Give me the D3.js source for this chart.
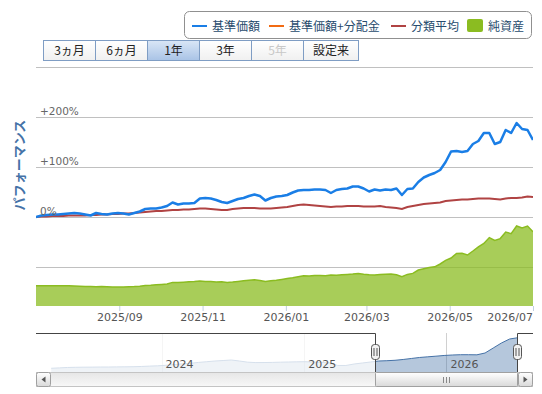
<!DOCTYPE html>
<html><head><meta charset="utf-8">
<script src="https://cdn.jsdelivr.net/npm/d3@7"></script>
<style>
body{margin:0;background:#fff}
svg{display:block;font-family:"DejaVu Sans",sans-serif}
.jp{font-family:"Noto Sans CJK JP",sans-serif}
</style></head><body><div id="chart"></div>
<script>
var w = 542, h = 394

// main series, one point every 4 days from 2025/07/02
var start = new Date(2025, 6, 2), step = 4
var fundValues = [0,3,4,5,5,6,7,8,7,5,3,
  8,6,5,7,8,7,5,8,11,16,17,17,19,22,29,25,27,27,28,37,38,
  37,34,30,28,32,36,38,42,45,42,33,38,41,42,44,49,53,54,54,55,55,54,
  48,54,56,57,61,61,57,51,55,53,55,54,57,44,56,57,70,79,84,88,94,
  110,131,132,130,132,146,152,168,168,146,150,174,168,188,176,174,154]
var categoryValues = [0,1,1,2,2,2,3,3,3,3,4,
  4,5,5,6,6,7,7,8,9,10,11,12,12,13,14,14,15,15,16,17,17,
  16,15,14,14,16,17,18,18,18,17,17,17,18,19,20,22,24,25,24,23,22,21,
  20,21,21,22,22,22,21,21,21,22,20,19,18,16,20,22,24,26,27,28,29,
  32,33,34,35,35,36,37,37,37,36,35,37,38,38,39,41,40]
var netAssets = [101,101,101,101,101,101,101,100,99,97,97,96,97,96,95,95,95,96,97,99,
  103,104,106,108,110,118,117,119,121,122,125,123,122,120,121,118,120,123,126,129,
  131,128,122,126,129,133,137,141,146,151,150,152,153,151,155,154,156,158,160,163,
  159,156,155,158,159,160,156,147,158,163,180,186,192,196,210,228,240,263,264,255,
  275,296,313,342,328,337,370,362,400,390,400,371]

var yTicks = [-100, 0, 100, 200, 300]
var yTickLabels = {'0': '0%', '100': '+100%', '200': '+200%'}
var xTicks = ['2025-09-01', '2025-11-01', '2026-01-01', '2026-03-01', '2026-05-01', '2026-07-01']

// navigator: 基準価額 since inception, one point every 21 days
var navStart = new Date(2023, 2, 24), navStep = 21
var navValues = [10000,11100,12200,12700,13000,13200,13500,13500,13800,14000,
  14300,14900,15900,16700,18100,20000,21900,23500,25900,27800,
  29700,31000,32400,29700,26500,25400,25600,25900,26500,27000,
  27500,27800,27000,25900,24800,17600,17600,21600,24300,27000,
  29700,30500,31600,33800,36500,39200,41000,42700,44600,45900,
  46700,46700,46400,51300,64800,78300,89100,92600]
var navYears = ['2024-01-01', '2025-01-01', '2026-01-01']

var buttons = ['3ヵ月', '6ヵ月', '1年', '3年', '5年', '設定来']
var legendNames = ['基準価額', '基準価額+分配金', '分類平均', '純資産']
var legendColors = ['#1a7ee6', '#f26b13', '#b04343', '#8bbc21']

var parse = d3.timeParse('%Y-%m-%d')
var dates = fundValues.map(function(d, i){ return d3.timeDay.offset(start, i * step) })
var navDates = navValues.map(function(d, i){ return d3.timeDay.offset(navStart, i * navStep) })

var L = 36, R = 533

var svg = d3.select('#chart').append('svg')
    .attr('width', w).attr('height', h)

var defs = svg.append('defs')
defs.append('clipPath').attr('id', 'plot')
  .append('rect').attr('x', L).attr('y', 60).attr('width', R - L).attr('height', 246)
defs.append('clipPath').attr('id', 'nav')
  .append('rect').attr('x', L).attr('y', 333).attr('width', R - L).attr('height', 39)

function grad(id, c1, c2){
  var g = defs.append('linearGradient').attr('id', id).attr('x1', 0).attr('x2', 0).attr('y1', 0).attr('y2', 1)
  g.append('stop').attr('offset', 0).attr('stop-color', c1)
  g.append('stop').attr('offset', 1).attr('stop-color', c2)
}
grad('btn', '#ffffff', '#f0f0f0')
grad('btnOn', '#d9e6f6', '#a9c3e6')
grad('bar', '#ffffff', '#d9d9d9')
grad('track', '#e6e6e6', '#f8f8f8')

var x = d3.scaleTime().domain([dates[0], dates[dates.length - 1]]).range([L, R])
var y = d3.scaleLinear().domain([-100, 300]).range([267, 67])
var y2 = d3.scaleLinear().domain([0, 500]).range([306, 206])

// grid
svg.append('g').selectAll('line').data(yTicks).enter().append('line')
    .attr('x1', L).attr('x2', R)
    .attr('y1', function(d){ return Math.round(y(d)) + 0.5 })
    .attr('y2', function(d){ return Math.round(y(d)) + 0.5 })
    .style('stroke', '#c0c0c0')

// net assets
var plot = svg.append('g').attr('clip-path', 'url(#plot)')
plot.append('path').datum(netAssets)
    .attr('d', d3.area().x(function(d, i){ return x(dates[i]) }).y0(306).y1(function(d){ return y2(d) }))
    .style('fill', '#8bbc21').style('opacity', 0.75)
plot.append('path').datum(netAssets)
    .attr('d', d3.line().x(function(d, i){ return x(dates[i]) }).y(function(d){ return y2(d) }))
    .style('fill', 'none').style('stroke', '#8bbc21').style('stroke-width', 1.5)

var perfLine = d3.line().x(function(d, i){ return x(dates[i]) }).y(function(d){ return y(d) })
plot.append('path').datum(categoryValues).attr('d', perfLine)
    .style('fill', 'none').style('stroke', legendColors[2]).style('stroke-width', 2)
plot.append('path').datum(fundValues).attr('d', perfLine)
    .style('fill', 'none').style('stroke', legendColors[0]).style('stroke-width', 2.5)
    .style('stroke-linejoin', 'round')

// y labels
svg.append('g').selectAll('text').data(yTicks.filter(function(d){ return yTickLabels[d] })).enter().append('text')
    .attr('x', 40).attr('y', function(d){ return y(d) - 2.5 })
    .text(function(d){ return yTickLabels[d] })
    .style('font-size', '10.5px').style('fill', '#666')

svg.append('text').attr('class', 'jp')
    .attr('transform', 'translate(24,165) rotate(-90)')
    .attr('text-anchor', 'middle')
    .text('パフォーマンス')
    .style('font-size', '13px').style('font-weight', 'bold').style('fill', '#4572a7')

// x axis
var xAxis = svg.append('g').attr('transform', 'translate(0,306)')
    .call(d3.axisBottom(x).tickValues(xTicks.map(parse)).tickSize(5).tickFormat(d3.timeFormat('%Y/%m')))
xAxis.select('.domain').remove()
xAxis.selectAll('line').style('stroke', '#c0d0e0')
xAxis.selectAll('text').attr('y', 7).style('font-size', '11px').style('fill', '#555')
    .style('font-family', '"DejaVu Sans",sans-serif')
    .each(function(){
      var t = d3.select(this), tx = +this.parentNode.getAttribute('transform').match(/translate\(([\d.]+)/)[1]
      var half = this.getComputedTextLength() / 2
      if (tx + half > R) t.attr('x', R - half - tx)
    })

// range buttons
var bw = [52, 52, 52, 52, 52, 55], bx = 43
var btn = svg.append('g')
buttons.forEach(function(b, i){
  var g = btn.append('g').attr('transform', 'translate(' + (bx + 0.5) + ',40.5)')
  g.append('rect').attr('width', bw[i]).attr('height', 20)
      .style('fill', i == 2 ? 'url(#btnOn)' : 'url(#btn)').style('stroke', '#7f9dc4')
  g.append('text').attr('class', 'jp').attr('x', bw[i] / 2).attr('y', 14.5).attr('text-anchor', 'middle')
      .text(b).style('font-size', '12px')
      .style('fill', i == 4 ? '#c8c8c8' : '#222')
  bx += bw[i]
})

// legend
var lg = svg.append('g')
lg.append('rect').attr('x', 184.5).attr('y', 11.5).attr('width', 347).attr('height', 27).attr('rx', 5)
    .style('fill', '#fff').style('stroke', '#909090')
var lx = [192, 269, 391, 467]
legendNames.forEach(function(n, i){
  if (i == 3)
    lg.append('rect').attr('x', lx[i]).attr('y', 19).attr('width', 16).attr('height', 13).attr('rx', 2)
        .style('fill', legendColors[i])
  else
    lg.append('line').attr('x1', lx[i]).attr('x2', lx[i] + 15).attr('y1', 26).attr('y2', 26)
        .style('stroke', legendColors[i]).style('stroke-width', 2)
  lg.append('text').attr('class', 'jp').attr('x', lx[i] + (i == 3 ? 21 : 20)).attr('y', 30.5)
      .text(n).style('font-size', '12px').style('fill', '#274b6d')
})

// navigator
var navX = d3.scaleTime().domain([new Date(2023, 1, 13), new Date(2026, 7, 11)]).range([L, R])
var navY = d3.scaleLinear().domain([0, 105300]).range([372, 333])
var z0 = navX(dates[0]), z1 = navX(dates[dates.length - 1])

svg.append('g').selectAll('line').data(navYears.map(parse)).enter().append('line')
    .attr('x1', function(d){ return Math.round(navX(d)) + 0.5 })
    .attr('x2', function(d){ return Math.round(navX(d)) + 0.5 })
    .attr('y1', 333).attr('y2', 372).style('stroke', '#d0d0d0')

var nav = svg.append('g').attr('clip-path', 'url(#nav)')
nav.append('path').datum(navValues)
    .attr('d', d3.area().x(function(d, i){ return navX(navDates[i]) }).y0(372).y1(function(d){ return navY(d) }))
    .style('fill', '#4572a7').style('fill-opacity', 0.4)
nav.append('path').datum(navValues)
    .attr('d', d3.line().x(function(d, i){ return navX(navDates[i]) }).y(function(d){ return navY(d) }))
    .style('fill', 'none').style('stroke', '#4572a7').style('stroke-width', 1)
nav.append('rect').attr('x', L).attr('y', 333).attr('width', z0 - L).attr('height', 39)
    .style('fill', '#fff').style('opacity', 0.78)
nav.append('rect').attr('x', z1).attr('y', 333).attr('width', R - z1).attr('height', 39)
    .style('fill', '#fff').style('opacity', 0.78)

svg.append('g').selectAll('text').data(navYears.map(parse)).enter().append('text')
    .attr('x', function(d){ return navX(d) + 4 }).attr('y', 368)
    .text(d3.timeFormat('%Y'))
    .style('font-size', '11px').style('fill', '#555')

svg.append('path')
    .attr('d', 'M' + L + ',333.5H' + (Math.round(z0) + 0.5) + 'V372.5H' + (Math.round(z1) + 0.5) + 'V333.5H' + R)
    .style('fill', 'none').style('stroke', '#444')

// scrollbar
svg.append('rect').attr('x', L + 0.5).attr('y', 372.5).attr('width', R - L - 1).attr('height', 14)
    .style('fill', 'url(#track)').style('stroke', '#c4c4c4')
svg.append('rect').attr('x', Math.round(z0) + 0.5).attr('y', 372.5).attr('width', Math.round(z1) - Math.round(z0)).attr('height', 14)
    .attr('rx', 1).style('fill', 'url(#bar)').style('stroke', '#a0a0a0')
var gc = (z0 + z1) / 2
;[-3, 0, 3].forEach(function(o){
  svg.append('line').attr('x1', Math.round(gc + o) + 0.5).attr('x2', Math.round(gc + o) + 0.5)
      .attr('y1', 377).attr('y2', 383).style('stroke', '#888')
})
;[[L, -1], [R - 15, 1]].forEach(function(b){
  svg.append('rect').attr('x', b[0] + 0.5).attr('y', 372.5).attr('width', 14).attr('height', 14).attr('rx', 2)
      .style('fill', 'url(#bar)').style('stroke', '#a0a0a0')
  var cx = b[0] + 7.5
  svg.append('path').attr('d', 'M' + (cx + 2 * b[1]) + ',379.5l' + (-4 * b[1]) + ',-3v6z')
      .style('fill', '#555')
})

// handles
;[z0, z1].forEach(function(cx){
  cx = Math.round(cx) + 0.5
  svg.append('rect').attr('x', cx - 4).attr('y', 344.5).attr('width', 8).attr('height', 15).attr('rx', 3)
      .style('fill', '#f2f2f2').style('stroke', '#555')
  svg.append('path').attr('d', 'M' + (cx - 1.5) + ',348V356M' + (cx + 1.5) + ',348V356')
      .style('stroke', '#555')
})
</script>
</body></html>
